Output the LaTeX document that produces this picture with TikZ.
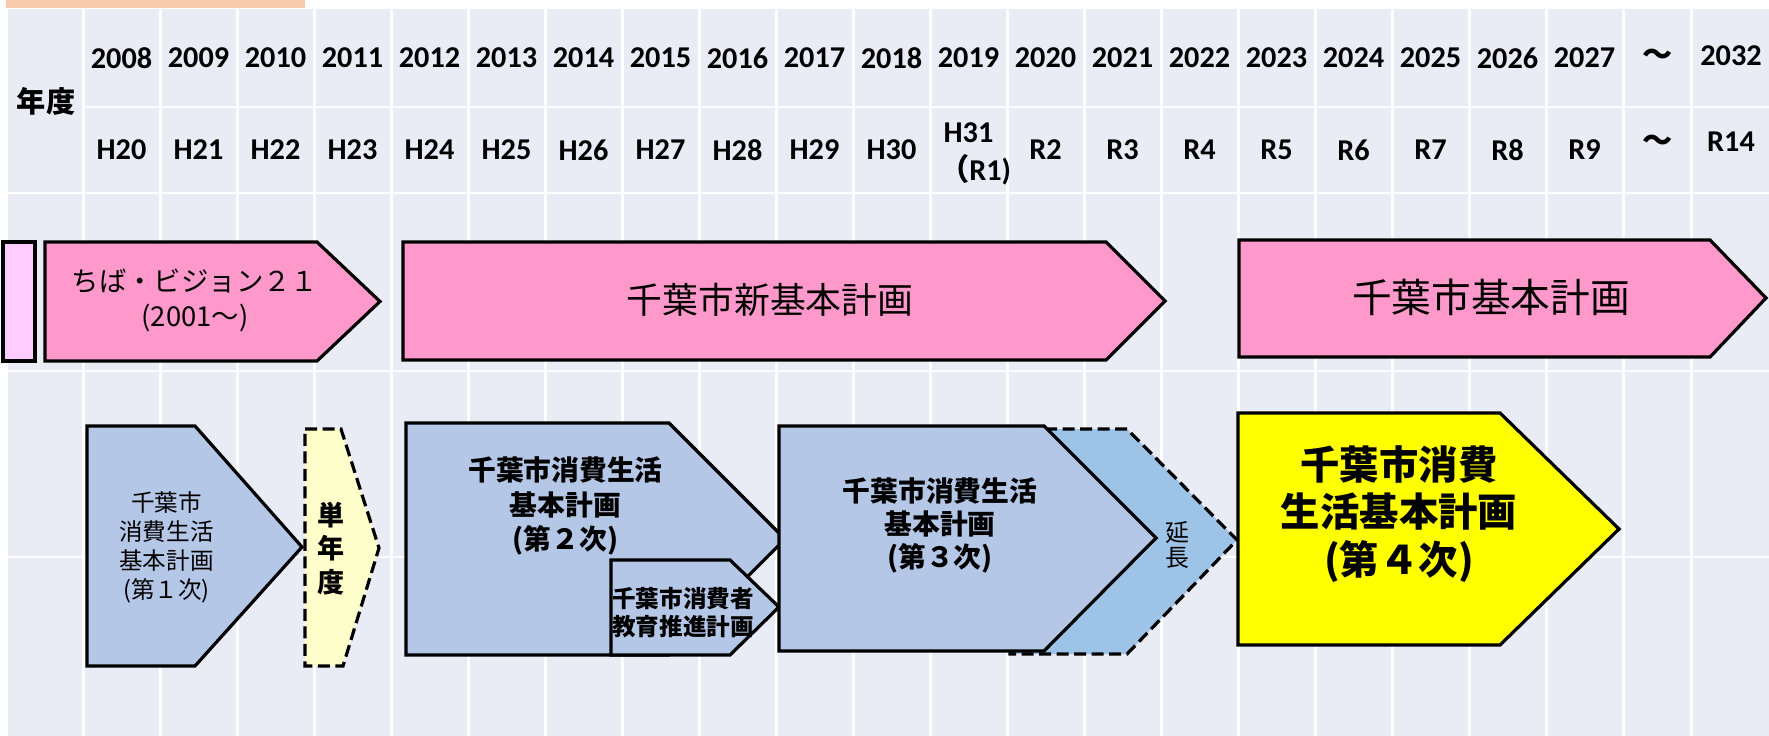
\documentclass[tikz,border=0pt]{standalone}
\usepackage{fontspec}
\setmainfont{Carlito}
\newfontfamily\cjk{Noto Sans CJK JP}
\definecolor{bgcell}{RGB}{233,235,245}
\definecolor{orangebar}{RGB}{248,203,173}
\definecolor{pinkA}{RGB}{255,153,204}
\definecolor{pinkB}{RGB}{255,204,255}
\definecolor{blueA}{RGB}{180,199,231}
\definecolor{blueB}{RGB}{157,195,230}
\definecolor{yellowA}{RGB}{255,255,204}
\definecolor{yellowB}{RGB}{255,255,0}
\begin{document}
\begin{tikzpicture}[x=0.1mm,y=-0.1mm,
  gridline/.style={white,line width=0.26mm},
  hdr/.style={inner sep=0pt,font=\fontsize{8.6}{10}\selectfont\bfseries},
  plan/.style={draw=black,line width=0.32mm,line join=miter},
  dplan/.style={plan,dash pattern=on 1.2mm off 0.55mm},
  txt/.style={inner sep=0pt,align=center}]
\useasboundingbox (0,0) rectangle (1769,736);
\fill[white] (0,0) rectangle (1769,736);
\fill[orangebar] (6,0) rectangle (305,8);
\fill[bgcell] (8,9) rectangle (1769,736);
% grid
\foreach \i in {0,...,20} \draw[gridline] ({83.5+77*\i},9) -- ({83.5+77*\i},736);
\draw[gridline] (1691.5,9) -- (1691.5,736);
\draw[gridline] (83.5,107) -- (1769,107);
\foreach \yy in {193,371,557} \draw[gridline] (8,\yy) -- (1769,\yy);
% header
\node[inner sep=0pt,font=\fontsize{8.3}{10}\selectfont\cjk\bfseries] (nendo) at (46,101) {年度};
\foreach \yr [count=\i from 0] in {2008,...,2027}
  \node[hdr] (y\yr) at ({121.5+77*\i},58) {\yr};
\foreach \era [count=\i from 0] in {H20,H21,H22,H23,H24,H25,H26,H27,H28,H29,H30}
  \node[hdr] (e\era) at ({121.5+77*\i},150) {\era};
\node[hdr] (eH31) at (968.5,133) {H31};
\node[hdr] (eR1) at (975,170) {{\cjk （}R1)};
\foreach \era [count=\i from 12] in {R2,R3,R4,R5,R6,R7,R8,R9}
  \node[hdr] (e\era) at ({121.5+77*\i},150) {\era};
\node[hdr] (tildeA) at (1658,57) {\cjk ～};
\node[hdr] (tildeB) at (1658,143) {\cjk ～};
\node[hdr] (y2032) at (1731,56) {2032};
\node[hdr] (eR14) at (1731,142) {R14};
% top row plans
\draw[plan,fill=pinkB] (3,242) rectangle (35,361);
\draw[plan,fill=pinkA] (45,242) -- (317,242) -- (380,301.5) -- (317,361) -- (45,361) -- cycle;
\node[txt,font=\fontsize{7.8}{10}\selectfont\cjk] (vision) at (195,300.5) {ちば・ビジョン２１\\(2001～)};
\draw[plan,fill=pinkA] (403,242) -- (1106,242) -- (1165,301) -- (1106,360) -- (403,360) -- cycle;
\node[txt,font=\fontsize{10.2}{12}\selectfont\cjk] (shinkihon) at (770,300) {千葉市新基本計画};
\draw[plan,fill=pinkA] (1239,240) -- (1710,240) -- (1766,298) -- (1710,357) -- (1239,357) -- cycle;
\node[txt,font=\fontsize{11.3}{13}\selectfont\cjk] (kihon) at (1491,297) {千葉市基本計画};
% lower plans
\draw[plan,fill=blueA] (87,426) -- (195,426) -- (302,547) -- (195,666) -- (87,666) -- cycle;
\node[txt,font=\fontsize{6.7}{8.25}\selectfont\cjk] (dai1) at (166.5,547) {千葉市\\消費生活\\基本計画\\(第１次)};
\draw[dplan,fill=yellowA] (305,429) -- (341,429) -- (379,548) -- (343,666) -- (305,666) -- cycle;
\node[txt,font=\fontsize{7.7}{9.5}\selectfont\cjk\bfseries] (tannendo) at (331,548.5) {単\\年\\度};
\draw[plan,fill=blueA] (406,423) -- (669,423) -- (785,539) -- (669,655) -- (406,655) -- cycle;
\node[txt,font=\fontsize{7.9}{9.7}\selectfont\cjk\bfseries] (dai2) at (565.5,506) {千葉市消費生活\\基本計画\\(第２次)};
\draw[plan,fill=blueA] (611,560) -- (730,560) -- (779,607) -- (730,655) -- (611,655) -- cycle;
\node[txt,font=\fontsize{6.7}{8.2}\selectfont\cjk\bfseries] (kyouiku) at (683,612.5) {千葉市消費者\\教育推進計画};
\draw[dplan,fill=blueB] (1010,429) -- (1127,429) -- (1237,540) -- (1127,654) -- (1010,654) -- cycle;
\draw[plan,fill=blueA] (779,426) -- (1044,426) -- (1156,538) -- (1044,651) -- (779,651) -- cycle;
\node[txt,font=\fontsize{7.9}{9.4}\selectfont\cjk\bfseries] (dai3) at (940,525.5) {千葉市消費生活\\基本計画\\(第３次)};
\node[txt,font=\fontsize{6.8}{7.0}\selectfont\cjk] (enchou) at (1177,545) {延\\長};
\draw[plan,fill=yellowB] (1238,413) -- (1500,413) -- (1619,529) -- (1500,645) -- (1238,645) -- cycle;
\node[txt,font=\fontsize{11.2}{13.5}\selectfont\cjk\bfseries] (dai4) at (1399,514) {千葉市消費\\生活基本計画\\(第４次)};
\end{tikzpicture}
\end{document}
